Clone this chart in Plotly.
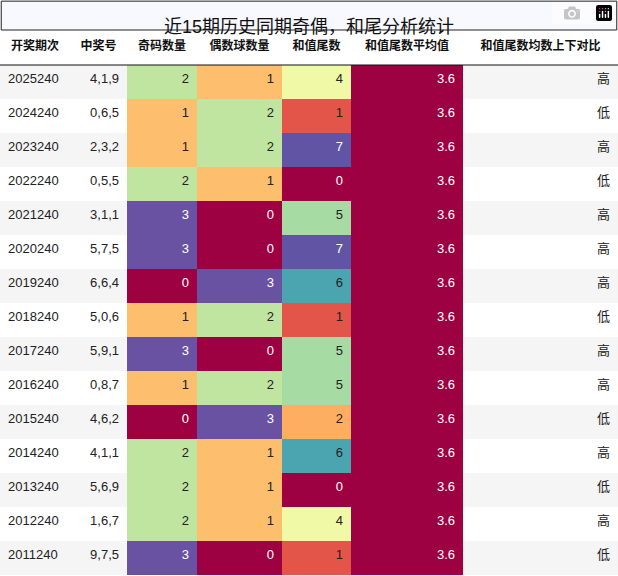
import plotly.graph_objects as go

periods = ["2025240","2024240","2023240","2022240","2021240","2020240","2019240","2018240","2017240","2016240","2015240","2014240","2013240","2012240","2011240"]
numbers = ["4,1,9","0,6,5","2,3,2","0,5,5","3,1,1","5,7,5","6,6,4","5,0,6","5,9,1","0,8,7","4,6,2","4,1,1","5,6,9","1,6,7","9,7,5"]
odd = [2,1,1,2,3,3,0,1,3,1,0,2,2,2,3]
even = [1,2,2,1,0,0,3,2,0,2,3,1,1,1,0]
tail = [4,1,7,0,5,7,6,1,5,5,2,6,0,4,1]
avg = [3.6]*15
hilo = ["高","低","高","低","高","高","高","低","高","高","低","高","低","高","低"]
headers = ["开奖期次","中奖号","奇码数量","偶数球数量","和值尾数","和值尾数平均值","和值尾数均数上下对比"]

cnt_col = {0:"#9e0142",1:"#fdbe6e",2:"#c0e5a0",3:"#6a52a3"}
tail_col = {0:"#9e0142",1:"#e45549",2:"#fdae61",3:"#fee08b",4:"#eff9a6",5:"#a6dba4",6:"#4aa5b0",7:"#6254a5"}
dark = {"#9e0142","#6a52a3","#6254a5"}

stripe = ["#f5f5f5" if i%2==0 else "#ffffff" for i in range(15)]
oc = [cnt_col[v] for v in odd]
ec = [cnt_col[v] for v in even]
tc = [tail_col[v] for v in tail]
ac = ["#9e0142"]*15
fills = [stripe, stripe, oc, ec, tc, ac, stripe]
fcols = [["#222"]*15, ["#222"]*15] + [["white" if c in dark else "#222" for c in col] for col in (oc, ec, tc, ac)] + [["#222"]*15]

FONT = "Liberation Sans, Noto Sans CJK SC"
fig = go.Figure(go.Table(
    columnwidth=[70,57,70,85,69,112,155],
    domain=dict(x=[0,1], y=[0, 546/576]),
    header=dict(values=["<b>%s</b>" % h for h in headers], height=35, align="center",
                fill_color="white", line=dict(color="white", width=0),
                font=dict(family=FONT, size=12, color="#111")),
    cells=dict(values=[periods, numbers, odd, even, tail, avg, hilo], height=34,
               align=["left","right","right","right","right","right","right"],
               fill_color=fills, line=dict(color=fills, width=0),
               font=dict(family=FONT, size=13, color=fcols)),
))
fig.add_shape(type="rect", xref="paper", yref="paper", x0=0.002, x1=0.998, y0=1-30/576, y1=0.998,
              line=dict(color="#222", width=1), fillcolor="#f8f8ff")
fig.add_shape(type="line", xref="paper", yref="paper", x0=0, x1=1, y0=1-65/576, y1=1-65/576,
              line=dict(color="#111", width=1))
fig.add_annotation(text="近15期历史同期奇偶，和尾分析统计", xref="paper", yref="paper", x=0.5, y=1-15/576,
                   showarrow=False, font=dict(family=FONT, size=18, color="#111"))
fig.update_layout(width=618, height=576, margin=dict(l=0,r=0,t=0,b=0), paper_bgcolor="white")
fig.write_html("out.html")
with open("out.html", encoding="utf-8") as f:
    html = f.read()
html = html.replace("<head>", "<head><style>html,body{margin:0;padding:0;overflow:hidden}</style>", 1)
with open("out.html", "w", encoding="utf-8") as f:
    f.write(html)
